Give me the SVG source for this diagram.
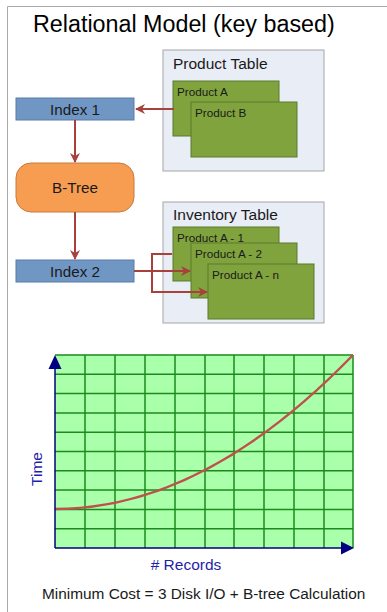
<svg xmlns="http://www.w3.org/2000/svg" width="387" height="612" viewBox="0 0 387 612">
<style>
text{font-family:"Liberation Sans",Arial,sans-serif}
.tbl{fill:#E9EDF6;stroke:#A6A6A6;stroke-width:1}
.rec{fill:#80A33E;stroke:#5B7A2A;stroke-width:1}
.idx{fill:#7096C4;stroke:#5A7BA6;stroke-width:1}
.lbl{font-size:15.5px;fill:#1a1a1a}
.ilbl{font-size:15.2px;fill:#1a1a1a}
.small{font-size:11.7px;fill:#1a1a1a}
.conn{fill:none;stroke:#A8413C;stroke-width:2}
.grid{stroke:#1A8A1A;stroke-width:1.5}
.axis{stroke:#000080;stroke-width:1.5;fill:none}
.axlbl{font-size:15.5px;fill:#1F1FA8}
</style>
<defs>
<marker id="ah" viewBox="0 0 10 10" refX="9" refY="5" markerWidth="5" markerHeight="5" orient="auto" markerUnits="strokeWidth">
<path d="M0,0 L10,5 L0,10 L3,5 Z" fill="#A8413C"/>
</marker>
</defs>
<g id="frame" fill="none" stroke="#A9A9A9" stroke-width="1">
<path d="M7.5,612 L7.5,6.5 L387,6.5"/>
</g>
<text x="33" y="32" font-size="23.3" fill="#000">Relational Model (key based)</text>
<g id="product-table">
<rect class="tbl" x="163" y="50" width="161" height="121"/>
<text class="lbl" x="173" y="69">Product Table</text>
</g>
<g id="product-a">
<rect class="rec" x="173" y="81" width="106" height="55"/>
<text class="small" x="177" y="96">Product A</text>
</g>
<g id="product-b">
<rect class="rec" x="191" y="102" width="106" height="55"/>
<text class="small" x="195" y="117">Product B</text>
</g>
<g id="inventory-table">
<rect class="tbl" x="163" y="202" width="161" height="121"/>
<text class="lbl" x="173" y="220">Inventory Table</text>
</g>
<g id="product-a-1">
<rect class="rec" x="173" y="227" width="106" height="54"/>
<text class="small" x="177" y="242">Product A - 1</text>
</g>
<g id="product-a-2">
<rect class="rec" x="191" y="243" width="106" height="55"/>
<text class="small" x="195" y="258">Product A - 2</text>
</g>
<g id="product-a-n">
<rect class="rec" x="208" y="264" width="106" height="55"/>
<text class="small" x="212" y="279">Product A - n</text>
</g>
<g id="index-1">
<rect class="idx" x="16" y="98" width="118" height="22"/>
<text class="ilbl" x="75" y="114.5" text-anchor="middle">Index 1</text>
</g>
<g id="b-tree">
<rect x="16" y="163" width="118" height="49" rx="15" fill="#F79D52" stroke="#C77B3A" stroke-width="1"/>
<text class="ilbl" x="75" y="193" text-anchor="middle">B-Tree</text>
</g>
<g id="index-2">
<rect class="idx" x="16" y="260" width="118" height="22"/>
<text class="ilbl" x="75" y="276.5" text-anchor="middle">Index 2</text>
</g>
<g id="connectors">
<path class="conn" d="M174,109 L136,109" marker-end="url(#ah)"/>
<path class="conn" d="M75,120 L75,162" marker-end="url(#ah)"/>
<path class="conn" d="M75,212 L75,259" marker-end="url(#ah)"/>
<path class="conn" d="M134,271 L190,271" marker-end="url(#ah)"/>
<path class="conn" d="M172,254 L152,254 L152,292 L207,292" marker-end="url(#ah)"/>
</g>
<g id="chart">
<rect x="55" y="355" width="298" height="193" fill="#AAFFAA"/>
<g class="grid">
<line x1="85" y1="355" x2="85" y2="548"/>
<line x1="115" y1="355" x2="115" y2="548"/>
<line x1="145" y1="355" x2="145" y2="548"/>
<line x1="175" y1="355" x2="175" y2="548"/>
<line x1="205" y1="355" x2="205" y2="548"/>
<line x1="234" y1="355" x2="234" y2="548"/>
<line x1="264" y1="355" x2="264" y2="548"/>
<line x1="294" y1="355" x2="294" y2="548"/>
<line x1="324" y1="355" x2="324" y2="548"/>
<line x1="353" y1="355" x2="353" y2="548"/>
<line x1="55" y1="355" x2="353" y2="355"/>
<line x1="55" y1="374.3" x2="353" y2="374.3"/>
<line x1="55" y1="393.6" x2="353" y2="393.6"/>
<line x1="55" y1="412.9" x2="353" y2="412.9"/>
<line x1="55" y1="432.2" x2="353" y2="432.2"/>
<line x1="55" y1="451.5" x2="353" y2="451.5"/>
<line x1="55" y1="470.8" x2="353" y2="470.8"/>
<line x1="55" y1="490.1" x2="353" y2="490.1"/>
<line x1="55" y1="509.4" x2="353" y2="509.4"/>
<line x1="55" y1="528.7" x2="353" y2="528.7"/>
</g>
<path d="M55,509 Q204,509 353,355" fill="none" stroke="#C0504D" stroke-width="2.5"/>
<path class="axis" d="M55,548 L55,366"/>
<path class="axis" d="M55,548 L343,548"/>
<path d="M55,355 L61.5,369 L48.5,369 Z" fill="#000080"/>
<path d="M354,548 L341,541.5 L341,554.5 Z" fill="#000080"/>
<text class="axlbl" x="42" y="469" text-anchor="middle" transform="rotate(-90 42 469)">Time</text>
<text class="axlbl" x="186" y="570" text-anchor="middle"># Records</text>
</g>
<text x="42" y="599" font-size="15.4" fill="#1a1a1a">Minimum Cost = 3 Disk I/O + B-tree Calculation</text>
</svg>
